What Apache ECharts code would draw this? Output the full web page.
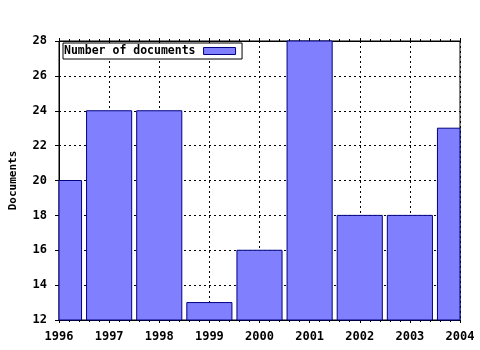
<!DOCTYPE html>
<html><head><meta charset="utf-8">
<script src="https://cdn.jsdelivr.net/npm/echarts@6/dist/echarts.min.js"></script>
<style>html,body{margin:0;padding:0;background:#fff}#c{width:480px;height:350px}</style>
</head><body><div id="c"></div>
<script>
var years = [1996, 1997, 1998, 1999, 2000, 2001, 2002, 2003, 2004];
var documents = [20, 24, 24, 13, 16, 28, 18, 18, 23];
var yTicks = [12, 14, 16, 18, 20, 22, 24, 26, 28];
var seriesName = 'Number of documents';
var yTitle = 'Documents';

var font = 'DejaVu Sans Mono';
var chart = echarts.init(document.getElementById('c'));
var axisLineStyle = {color: '#000', width: 1};
var barFraction = 0.9;
function renderBar(params, api) {
  var x = api.value(0), y = api.value(1);
  var base = api.coord([x, yTicks[0]]);
  var top = api.coord([x, y]);
  var w = api.size([1, 0])[0] * barFraction;
  var rect = echarts.graphic.clipRectByRect(
    {x: base[0] - w / 2, y: top[1], width: w, height: base[1] - top[1]},
    {x: params.coordSys.x, y: params.coordSys.y, width: params.coordSys.width, height: params.coordSys.height}
  );
  if (!rect) return null;
  return {type: 'rect', shape: rect, style: api.style({fill: '#8080ff', stroke: '#000080', lineWidth: 1})};
}
chart.setOption({
  backgroundColor: '#fff',
  animation: false,
  grid: {left: 56, right: 20, top: 41, bottom: 30, show: true, borderColor: '#000', borderWidth: 1, backgroundColor: 'transparent'},
  legend: {
    left: 63, top: 43, align: 'right', padding: [2, 6, 2, 1],
    backgroundColor: '#fff',
    borderColor: '#000', borderWidth: 1, borderRadius: 0,
    itemWidth: 32, itemHeight: 7, itemGap: 0,
    icon: 'rect',
    itemStyle: {color: '#8080ff', borderColor: '#000080', borderWidth: 1},
    textStyle: {fontFamily: font, fontWeight: 'bold', fontSize: 11.5, color: '#000', padding: [0, 3, 0, 0]},
    data: [seriesName]
  },
  xAxis: [{
    type: 'value', min: years[0], max: years[years.length - 1], interval: 1,
    axisLine: {show: true, onZero: false, lineStyle: axisLineStyle},
    axisTick: {show: true, length: 3, lineStyle: axisLineStyle},
    minorTick: {show: true, splitNumber: 5, length: 2, lineStyle: axisLineStyle},
    axisLabel: {fontFamily: font, fontWeight: 'bold', fontSize: 12, color: '#000', margin: 11, formatter: function(v){return String(v);}},
    splitLine: {show: true, lineStyle: {color: '#000', type: [2, 3], width: 1}}
  }, {
    type: 'value', position: 'top', min: years[0], max: years[years.length - 1], interval: 1,
    axisLine: {show: true, onZero: false, lineStyle: axisLineStyle},
    axisTick: {show: true, length: 3, lineStyle: axisLineStyle},
    minorTick: {show: true, splitNumber: 5, length: 2, lineStyle: axisLineStyle},
    axisLabel: {show: false}, splitLine: {show: false}
  }],
  yAxis: {
    type: 'value', min: yTicks[0], max: yTicks[yTicks.length - 1], interval: 2,
    name: yTitle, nameLocation: 'middle', nameGap: 40, nameRotate: 90,
    nameTextStyle: {fontFamily: font, fontWeight: 'bold', fontSize: 11, color: '#000'},
    axisLine: {show: true, onZero: false, lineStyle: axisLineStyle},
    axisTick: {show: true, length: 4, inside: false, lineStyle: axisLineStyle},
    axisLabel: {fontFamily: font, fontWeight: 'bold', fontSize: 12, color: '#000', margin: 12},
    splitLine: {show: true, lineStyle: {color: '#000', type: [2, 3], width: 1}}
  },
  series: [{
    name: seriesName, type: 'custom', renderItem: renderBar,
    itemStyle: {color: '#8080ff', borderColor: '#000080', borderWidth: 1},
    encode: {x: 0, y: 1},
    data: years.map(function(y, i){ return [y, documents[i]]; })
  }]
});
</script></body></html>
